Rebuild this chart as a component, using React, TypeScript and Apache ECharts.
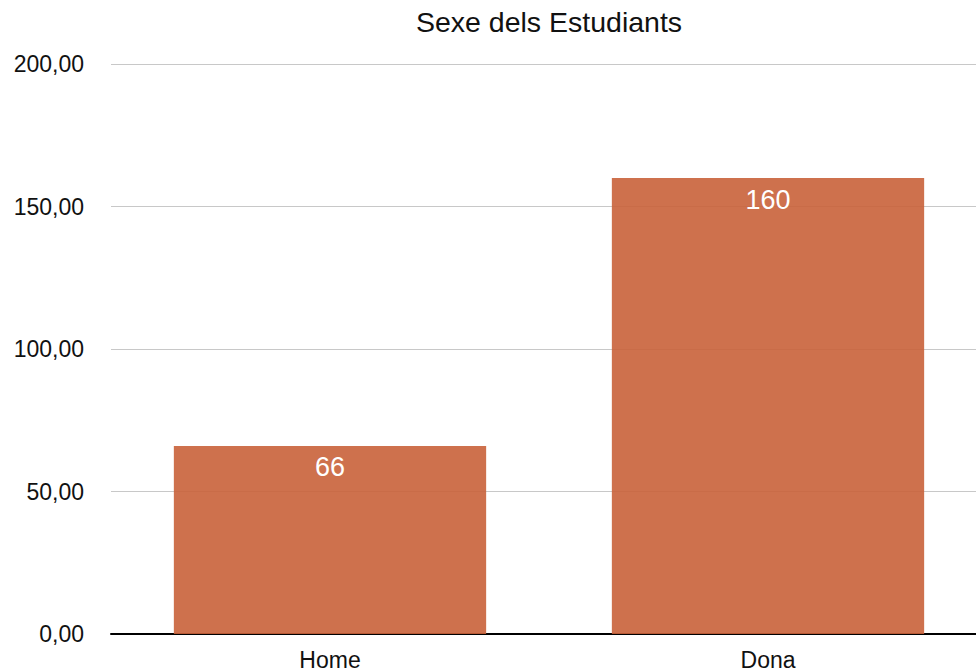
import React, { useEffect, useRef } from "react";
import * as echarts from "echarts";

const categories = ["Home", "Dona"];
const values = [66, 160];
const titleText = "Sexe dels Estudiants";

export default function App() {
  const ref = useRef<HTMLDivElement>(null);
  useEffect(() => {
    if (!ref.current) return;
    const chart = echarts.init(ref.current, null, { renderer: "svg" });
    const font = "'Liberation Sans', Arial, Helvetica, sans-serif";
    chart.setOption({
      animation: false,
      backgroundColor: "#ffffff",
      title: {
        text: titleText,
        left: 544,
        textAlign: "center",
        top: 2,
        textStyle: { fontFamily: font, fontSize: 28.5, fontWeight: "normal", color: "#111" },
      },
      grid: { left: 111, right: 0, top: 64, bottom: 38, containLabel: false },
      xAxis: {
        type: "category",
        data: categories,
        axisLine: { show: true, lineStyle: { color: "#000", width: 2 } },
        axisTick: { show: false },
        axisLabel: { fontFamily: font, fontSize: 23, color: "#111", margin: 14 },
      },
      yAxis: {
        type: "value",
        min: 0,
        max: 200,
        interval: 50,
        axisLine: { show: false },
        axisTick: { show: false },
        splitLine: { lineStyle: { color: "#c8c8c8", width: 1 } },
        axisLabel: {
          fontFamily: font,
          fontSize: 23,
          color: "#111",
          margin: 27,
          formatter: (v: number) => v.toFixed(2).replace(".", ","),
        },
      },
      series: [
        {
          type: "bar",
          data: values,
          barWidth: "71.3%",
          itemStyle: { color: "rgba(201,98,58,0.9)" },
          label: {
            show: true,
            position: "insideTop",
            distance: 8,
            color: "#ffffff",
            fontFamily: font,
            fontSize: 27,
          },
        },
      ],
    });
    return () => chart.dispose();
  }, []);
  return (
    <div style={{ position: "fixed", left: 0, top: 0, width: 976, height: 672, overflow: "hidden" }}>
      <div ref={ref} style={{ width: 987, height: 672 }} />
    </div>
  );
}
